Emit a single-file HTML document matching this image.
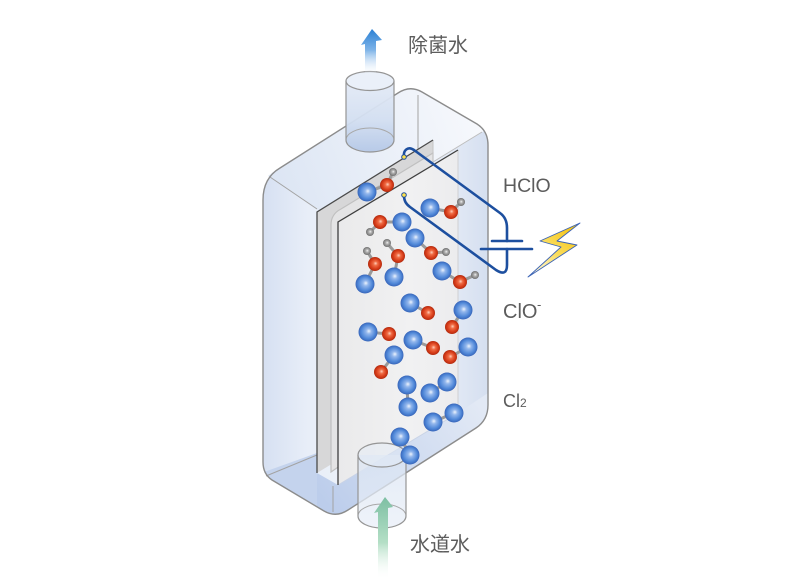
<!DOCTYPE html>
<html><head><meta charset="utf-8">
<style>
html,body{margin:0;padding:0;background:#fff;}
svg{display:block;}
text{font-family:"Liberation Sans","Noto Sans CJK JP",sans-serif;fill:#5c5c5c;}
</style></head><body>
<svg width="807" height="587" viewBox="0 0 807 587" xmlns="http://www.w3.org/2000/svg">
<defs>
 <linearGradient id="boxg" gradientUnits="userSpaceOnUse" x1="263" y1="0" x2="488" y2="0">
  <stop offset="0" stop-color="#d6e0f2"/>
  <stop offset="0.2" stop-color="#e8eef8"/>
  <stop offset="0.55" stop-color="#f0f4fa"/>
  <stop offset="0.85" stop-color="#e2e9f5"/>
  <stop offset="1" stop-color="#d5dff0"/>
 </linearGradient>
 <linearGradient id="topg" gradientUnits="userSpaceOnUse" x1="280" y1="180" x2="470" y2="110">
  <stop offset="0" stop-color="#dde6f4"/>
  <stop offset="1" stop-color="#f6f8fc"/>
 </linearGradient>
 <linearGradient id="waterg" gradientUnits="userSpaceOnUse" x1="330" y1="510" x2="475" y2="400">
  <stop offset="0" stop-color="#bccdeb"/>
  <stop offset="1" stop-color="#e2e9f5"/>
 </linearGradient>
 <linearGradient id="plate2g" gradientUnits="userSpaceOnUse" x1="338" y1="0" x2="458" y2="0">
  <stop offset="0" stop-color="#eaeaeb"/>
  <stop offset="0.6" stop-color="#f1f1f2"/>
  <stop offset="1" stop-color="#ececee"/>
 </linearGradient>
 <linearGradient id="pipeg" x1="0" y1="0" x2="0" y2="1">
  <stop offset="0" stop-color="#e3eaf6"/>
  <stop offset="0.55" stop-color="#d3dff1"/>
  <stop offset="1" stop-color="#b5c8e7"/>
 </linearGradient>
 <linearGradient id="pipe2g" x1="0" y1="0" x2="0" y2="1">
  <stop offset="0" stop-color="#dbe5f3"/>
  <stop offset="1" stop-color="#e9eff8"/>
 </linearGradient>
 <linearGradient id="arrowb" gradientUnits="userSpaceOnUse" x1="0" y1="29" x2="0" y2="76">
  <stop offset="0" stop-color="#2a80d4"/>
  <stop offset="0.45" stop-color="#7fb4e8"/>
  <stop offset="1" stop-color="#ffffff" stop-opacity="0"/>
 </linearGradient>
 <linearGradient id="arrowg" gradientUnits="userSpaceOnUse" x1="0" y1="497" x2="0" y2="580">
  <stop offset="0" stop-color="#7dbfa3"/>
  <stop offset="0.55" stop-color="#b4dfc6"/>
  <stop offset="1" stop-color="#ffffff" stop-opacity="0"/>
 </linearGradient>
 <linearGradient id="boltg" gradientUnits="userSpaceOnUse" x1="580" y1="223" x2="528" y2="277">
  <stop offset="0" stop-color="#f5be00"/>
  <stop offset="0.5" stop-color="#fadc5a"/>
  <stop offset="1" stop-color="#ffffff"/>
 </linearGradient>
 <radialGradient id="gb" cx="0.5" cy="0.5" r="0.5" fx="0.55" fy="0.45">
  <stop offset="0" stop-color="#eef4fd"/>
  <stop offset="0.28" stop-color="#92b6ec"/>
  <stop offset="0.72" stop-color="#5189d9"/>
  <stop offset="1" stop-color="#3866ba"/>
 </radialGradient>
 <radialGradient id="gr" cx="0.5" cy="0.5" r="0.5" fx="0.55" fy="0.45">
  <stop offset="0" stop-color="#ffd0bd"/>
  <stop offset="0.3" stop-color="#ef6c45"/>
  <stop offset="0.72" stop-color="#d73c19"/>
  <stop offset="1" stop-color="#b22b0f"/>
 </radialGradient>
 <radialGradient id="gg" cx="0.5" cy="0.5" r="0.5" fx="0.55" fy="0.45">
  <stop offset="0" stop-color="#f4f4f4"/>
  <stop offset="0.35" stop-color="#b3b3b3"/>
  <stop offset="1" stop-color="#6e6e6e"/>
 </radialGradient>
</defs>

<rect width="807" height="587" fill="#fff"/>

<!-- box silhouette -->
<path d="M263,200 Q263,178 280,168 L398,93 Q410,85 422,92 L477,124 Q488,131 488,145 L488,405 Q488,420 476,428 L348,510 Q336,518 324,511 L272,480 Q263,474 263,462 Z" fill="url(#boxg)"/>
<!-- top face -->
<path d="M276,170 L398,93 Q410,85 422,92 L477,124 Q486,129 484,131 L335,221 L268,176 Z" fill="url(#topg)"/>
<!-- water bottom -->
<path d="M264,472 L317,453 L317,506 L272,480 Z" fill="#c4d3ed"/>
<path d="M317,473 L338,485 L458,413 L488,393 L488,405 Q488,420 476,428 L348,510 Q336,518 324,511 L317,506 Z" fill="url(#waterg)"/>

<!-- interior lines -->
<g fill="none" stroke="#a3a3a3" stroke-width="1">
 <path d="M418,95 L418,150"/>
 <path d="M270,177 L317,209"/>
 <path d="M433,162 L482,132" stroke="#bdbdbd"/>
 <path d="M266,476 L317,455"/>
 <path d="M333,486 L333,512"/>
</g>

<!-- plate 1 -->
<path d="M317,212 L433,140 L433,402 L317,473 Z" fill="#d7d7d8"/>
<path d="M331,472 L331,225 Q331,214 341,209 L433,153 L433,402 Z" fill="#e4e4e5" stroke="#c0c0c0" stroke-width="1.2"/>
<path d="M433,140 L433,402" stroke="#c4c4c4" stroke-width="1" fill="none"/>
<path d="M317,473 L317,212 L433,140" stroke="#4a4a4a" stroke-width="1.3" fill="none"/>

<!-- plate 2 -->
<path d="M338,222 L458,150 L458,413 L338,485 Z" fill="url(#plate2g)"/>
<path d="M458,150 L458,413" stroke="#cfcfd2" stroke-width="1" fill="none"/>
<path d="M338,485 L458,413" stroke="#c9d3e6" stroke-width="1" fill="none"/>
<path d="M338,485 L338,222 L458,150" stroke="#3f3f3f" stroke-width="1.3" fill="none"/>

<!-- box outline -->
<path d="M263,200 Q263,178 280,168 L398,93 Q410,85 422,92 L477,124 Q488,131 488,145 L488,405 Q488,420 476,428 L348,510 Q336,518 324,511 L272,480 Q263,474 263,462 Z" fill="none" stroke="#8c8c8c" stroke-width="1.4"/>

<!-- top pipe -->
<path d="M346,81 L346,140 A24,12 0 0 0 394,140 L394,81 Z" fill="url(#pipeg)" opacity="0.95"/>
<path d="M346,140 A24,12 0 0 1 394,140" fill="none" stroke="#a8a8a8" stroke-width="1"/>
<path d="M346,81 L346,140 A24,12 0 0 0 394,140 L394,81" fill="none" stroke="#959595" stroke-width="1.2"/>
<ellipse cx="370" cy="81" rx="24" ry="9.5" fill="#eaf0f9" stroke="#959595" stroke-width="1.2"/>

<!-- bottom pipe -->
<path d="M358,455 L358,516 A24,12 0 0 0 406,516 L406,455 Z" fill="url(#pipe2g)" opacity="0.75"/>
<path d="M358,516 A24,12 0 0 1 406,516" fill="none" stroke="#a8a8a8" stroke-width="1"/>
<path d="M358,455 L358,516 A24,12 0 0 0 406,516 L406,455" fill="none" stroke="#959595" stroke-width="1.2"/>
<ellipse cx="382" cy="455" rx="24" ry="12" fill="#e4ebf6" fill-opacity="0.5" stroke="#959595" stroke-width="1.2"/>

<!-- arrows -->
<path d="M372,29 L382,40 L376,41 L376,76 L365,76 L365,44 L361,45 Z" fill="url(#arrowb)"/>
<path d="M385,497 L393,507 L388,508 L388,580 L378,580 L378,512 L374,513 Z" fill="url(#arrowg)"/>

<!-- bonds -->
<g stroke="#9a9a9a" stroke-width="3" fill="none" stroke-linecap="round">
 <path d="M367,192 L387,185 L393,172"/>
 <path d="M430,208 L451,212 L461,202"/>
 <path d="M402,222 L380,222 L370,232"/>
 <path d="M415,238 L431,253 L446,252"/>
 <path d="M365,284 L375,264 L367,251"/>
 <path d="M394,277 L398,256 L387,243"/>
 <path d="M442,271 L460,282 L475,275"/>
 <path d="M410,303 L428,313"/>
 <path d="M463,310 L452,327"/>
 <path d="M368,332 L389,334"/>
 <path d="M413,340 L433,348"/>
 <path d="M468,347 L450,357"/>
 <path d="M394,355 L381,372"/>
 <path d="M407,385 L408,407"/>
 <path d="M447,382 L430,393"/>
 <path d="M454,413 L433,422"/>
 <path d="M400,437 L410,455"/>
</g>

<!-- H atoms -->
<g fill="url(#gg)">
 <circle cx="393" cy="172" r="4"/>
 <circle cx="461" cy="202" r="4"/>
 <circle cx="370" cy="232" r="4"/>
 <circle cx="446" cy="252" r="4"/>
 <circle cx="367" cy="251" r="4"/>
 <circle cx="387" cy="243" r="4"/>
 <circle cx="475" cy="275" r="4"/>
</g>
<!-- Cl atoms -->
<g fill="url(#gb)">
 <circle cx="367" cy="192" r="9.5"/>
 <circle cx="430" cy="208" r="9.5"/>
 <circle cx="402" cy="222" r="9.5"/>
 <circle cx="415" cy="238" r="9.5"/>
 <circle cx="365" cy="284" r="9.5"/>
 <circle cx="394" cy="277" r="9.5"/>
 <circle cx="442" cy="271" r="9.5"/>
 <circle cx="410" cy="303" r="9.5"/>
 <circle cx="463" cy="310" r="9.5"/>
 <circle cx="368" cy="332" r="9.5"/>
 <circle cx="413" cy="340" r="9.5"/>
 <circle cx="468" cy="347" r="9.5"/>
 <circle cx="394" cy="355" r="9.5"/>
 <circle cx="407" cy="385" r="9.5"/>
 <circle cx="408" cy="407" r="9.5"/>
 <circle cx="447" cy="382" r="9.5"/>
 <circle cx="430" cy="393" r="9.5"/>
 <circle cx="454" cy="413" r="9.5"/>
 <circle cx="433" cy="422" r="9.5"/>
 <circle cx="400" cy="437" r="9.5"/>
 <circle cx="410" cy="455" r="9.5"/>
</g>
<!-- O atoms -->
<g fill="url(#gr)">
 <circle cx="387" cy="185" r="7"/>
 <circle cx="451" cy="212" r="7"/>
 <circle cx="380" cy="222" r="7"/>
 <circle cx="431" cy="253" r="7"/>
 <circle cx="375" cy="264" r="7"/>
 <circle cx="398" cy="256" r="7"/>
 <circle cx="460" cy="282" r="7"/>
 <circle cx="428" cy="313" r="7"/>
 <circle cx="452" cy="327" r="7"/>
 <circle cx="389" cy="334" r="7"/>
 <circle cx="433" cy="348" r="7"/>
 <circle cx="450" cy="357" r="7"/>
 <circle cx="381" cy="372" r="7"/>
</g>

<!-- wires and capacitor -->
<g fill="none" stroke="#1d4f9f" stroke-width="2.6" stroke-linecap="round" stroke-linejoin="round">
 <path d="M404,157 C403,150 408,146 414,150 L500,213 Q507,218 507,228 L507,241"/>
 <path d="M404,195 C404,201 406,204 410,207 L496,270 Q507,277 507,265 L507,249"/>
 <path d="M492,241 L522,241"/>
 <path d="M481,249 L532,249"/>
</g>
<circle cx="404" cy="157" r="2.3" fill="#ffe14a" stroke="#1d4f9f" stroke-width="1"/>
<circle cx="404" cy="195" r="2.3" fill="#ffe14a" stroke="#1d4f9f" stroke-width="1"/>

<!-- lightning -->
<path d="M580,223 L540,241 L561,247 L528,277 L577,245 L557,241 Z" fill="url(#boltg)" stroke="#3b63b5" stroke-width="0.9" stroke-linejoin="round"/>

<!-- labels -->
<text x="408" y="52" font-size="20">除菌水</text>
<text x="503" y="192" font-size="19.5">HClO</text>
<text x="503" y="318" font-size="20">ClO</text>
<text x="537" y="309" font-size="13">-</text>
<text x="503" y="407" font-size="18">Cl<tspan font-size="12">2</tspan></text>
<text x="410" y="551" font-size="20">水道水</text>
</svg>
</body></html>
